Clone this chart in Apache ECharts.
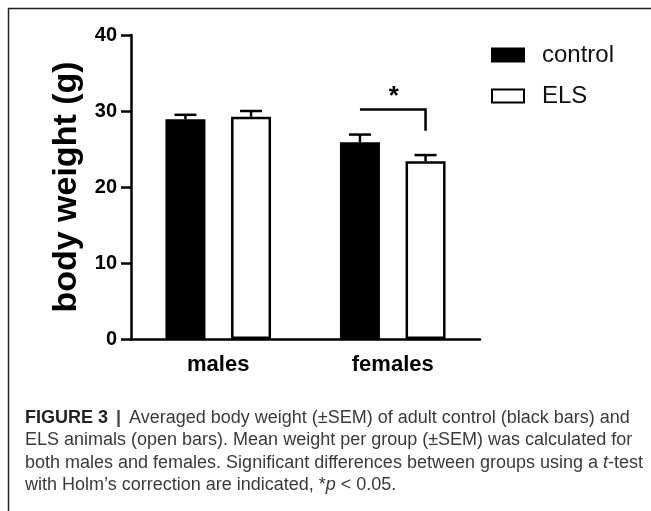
<!DOCTYPE html>
<html>
<head>
<meta charset="utf-8">
<script src="https://cdn.jsdelivr.net/npm/echarts@6/dist/echarts.min.js"></script>
<style>
html,body{margin:0;padding:0;background:#fff;}
#chart{width:651px;height:511px;}
</style>
</head>
<body>
<div id="chart"></div>
<script>
// ---- data ----
var categories = ['males', 'females'];
var controlMean = [28.9, 25.9];
var controlSem = [0.6, 1.0];
var elsMean = [29.25, 23.4];
var elsSem = [0.75, 0.8];
var yTicks = [0, 10, 20, 30, 40];
// significance bracket (females): top level, tail level, label
var sigCategory = [1];
var sigTop = [30.2];
var sigTail = [27.4];
var sigLabel = ['*'];

var captionLines = [
  '{b|FIGURE 3}{bar| | }Averaged body weight (±SEM) of adult control (black bars) and',
  'ELS animals (open bars). Mean weight per group (±SEM) was calculated for',
  'both males and females. Significant differences between groups using a {i|t}-test',
  'with Holm\u2019s correction are indicated, *{i|p} < 0.05.'
];

// ---- layout / style ----
var FONT = 'Liberation Sans';
var CAP = 18;
var BAR_W = 40;
var BAR_GAP = 0.64;
var OFFSET = BAR_W * (1 + BAR_GAP) / 2;

function errData(mean, sem) {
  return mean.map(function (m, i) { return [i, m, sem[i]]; });
}
function errRender(sign) {
  return function (params, api) {
    var c = api.value(0), m = api.value(1), s = api.value(2);
    var p0 = api.coord([c, m]);
    var p1 = api.coord([c, m + s]);
    var x = p0[0] + sign * OFFSET;
    return {
      type: 'group',
      children: [
        { type: 'line', shape: { x1: x, y1: p0[1], x2: x, y2: p1[1] }, style: { stroke: '#000', lineWidth: 2.5 } },
        { type: 'line', shape: { x1: x - 11, y1: p1[1], x2: x + 11, y2: p1[1] }, style: { stroke: '#000', lineWidth: 2.5 } }
      ]
    };
  };
}

var chart = echarts.init(document.getElementById('chart'), null, { renderer: 'canvas' });

var captionGraphics = captionLines.map(function (t, i) {
  return {
    type: 'text',
    left: 25,
    top: 409 + i * 22.4,
    style: {
      text: t,
      font: CAP + 'px "' + FONT + '"',
      fill: '#3a3a3a',
      rich: {
        b: { fontFamily: FONT, fontSize: CAP, fontWeight: 'bold', fill: '#222', color: '#222' },
        bar: { fontFamily: FONT, fontSize: CAP, fontWeight: 'bold', fill: '#444', color: '#444', padding: [0, 3, 0, 3] },
        i: { fontFamily: FONT, fontSize: CAP, fontStyle: 'italic', fill: '#3a3a3a', color: '#3a3a3a' }
      }
    }
  };
});

var option = {
  animation: false,
  backgroundColor: '#fff',
  textStyle: { fontFamily: FONT },
  grid: { left: 131, right: 171, top: 35, bottom: 172, containLabel: false },
  legend: {
    orient: 'vertical',
    left: 486,
    top: 38,
    itemWidth: 32,
    itemHeight: 13,
    itemGap: 17,
    icon: 'rect',
    data: ['control', 'ELS'],
    textStyle: { fontFamily: FONT, fontSize: 24, color: '#111', lineHeight: 24, padding: [0, 0, 0, 13] }
  },
  xAxis: {
    type: 'category',
    data: categories,
    axisLine: { lineStyle: { color: '#000', width: 2.5 } },
    axisTick: { alignWithLabel: true, length: 8, lineStyle: { color: '#000', width: 2.5 } },
    axisLabel: { fontFamily: FONT, fontSize: 22, fontWeight: 'bold', color: '#000', margin: 15 }
  },
  yAxis: {
    type: 'value',
    min: yTicks[0],
    max: yTicks[yTicks.length - 1],
    interval: yTicks[1] - yTicks[0],
    name: 'body weight (g)',
    nameLocation: 'middle',
    nameGap: 45,
    nameTextStyle: { fontFamily: FONT, fontSize: 34, fontWeight: 'bold', color: '#000' },
    axisLine: { show: true, lineStyle: { color: '#000', width: 2.5 } },
    axisTick: { show: true, length: 10, lineStyle: { color: '#000', width: 2.5 } },
    axisLabel: { fontFamily: FONT, fontSize: 20, fontWeight: 'bold', color: '#000', margin: 14 },
    splitLine: { show: false }
  },
  series: [
    {
      name: 'control',
      type: 'bar',
      data: controlMean,
      barWidth: BAR_W,
      barGap: (BAR_GAP * 100) + '%',
      itemStyle: { color: '#000', borderColor: '#000', borderWidth: 2.5 },
      z: 2
    },
    {
      name: 'ELS',
      type: 'bar',
      data: elsMean,
      barWidth: BAR_W,
      barGap: (BAR_GAP * 100) + '%',
      itemStyle: { color: '#fff', borderColor: '#000', borderWidth: 2.5 },
      z: 2
    },
    {
      name: 'control SEM',
      type: 'custom',
      data: errData(controlMean, controlSem),
      encode: { x: 0, y: 1 },
      renderItem: errRender(-1),
      z: 3
    },
    {
      name: 'ELS SEM',
      type: 'custom',
      data: errData(elsMean, elsSem),
      encode: { x: 0, y: 1 },
      renderItem: errRender(1),
      z: 3
    },
    {
      name: 'significance',
      type: 'custom',
      data: sigCategory.map(function (c, i) { return [c, sigTop[i], sigTail[i]]; }),
      encode: { x: 0, y: 1 },
      renderItem: function (params, api) {
        var c = api.value(0);
        var pTop = api.coord([c, api.value(1)]);
        var pTail = api.coord([c, api.value(2)]);
        var xL = pTop[0] - OFFSET, xR = pTop[0] + OFFSET;
        return {
          type: 'group',
          children: [
            { type: 'polyline', shape: { points: [[xL, pTop[1]], [xR, pTop[1]], [xR, pTail[1]]] },
              style: { stroke: '#000', lineWidth: 2.5, fill: null } },
            { type: 'text', x: (xL + xR) / 2 + 1, y: pTop[1] - 13,
              style: { text: sigLabel[params.dataIndex], font: 'bold 26px "' + FONT + '"', fill: '#000',
                       textAlign: 'center', textVerticalAlign: 'middle' } }
          ]
        };
      },
      z: 3
    }
  ],
  graphic: [
    { type: 'line', shape: { x1: 8, y1: 8.5, x2: 651, y2: 8.5 }, style: { stroke: '#222', lineWidth: 1.5 } },
    { type: 'line', shape: { x1: 8.5, y1: 8, x2: 8.5, y2: 511 }, style: { stroke: '#222', lineWidth: 1.5 } }
  ].concat(captionGraphics)
};
chart.setOption(option);
</script>
</body>
</html>
